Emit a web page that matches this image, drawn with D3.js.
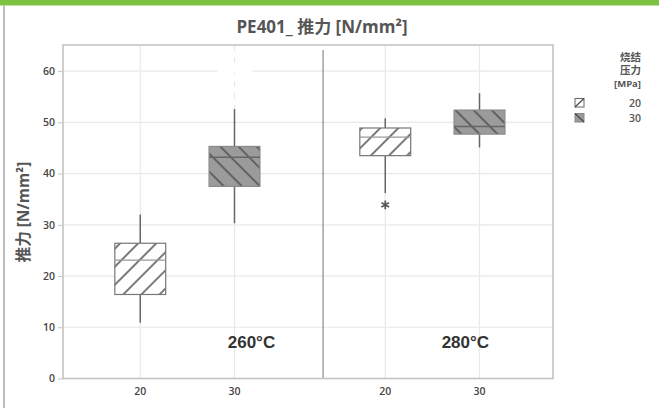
<!DOCTYPE html>
<html><head><meta charset="utf-8">
<script src="https://cdn.jsdelivr.net/npm/d3@7/dist/d3.min.js"></script>
<style>
html,body{margin:0;padding:0;background:#fff;}
svg{display:block;}
svg{font-family:"Open Sans","Noto Sans CJK SC",sans-serif;}
</style></head>
<body>
<script>
// ---- data ----
const temps = ["260°C", "280°C"];
const pressures = [20, 30];
const q1      = [16.4, 37.5, 43.5, 47.7];
const median  = [23.1, 43.2, 47.1, 49.2];
const q3      = [26.4, 45.3, 48.9, 52.4];
const whiskLo = [10.9, 30.3, 36.2, 45.1];
const whiskHi = [32.0, 52.6, 50.8, 55.7];
const outlierGroup = [2];
const outlierValue = [33.9];
const yTicks = [0, 10, 20, 30, 40, 50, 60];
const legendTitle = ["烧结", "压力", "[MPa]"];

// ---- layout ----
const W = 659, H = 408;
const plot = {l: 63, r: 553, t: 45, b: 378.5};
const groupOffset = 2.6;
const tempLabelPos = [1.18, 3.45];

const svg = d3.select("body").append("svg").attr("width", W).attr("height", H);

const defs = svg.append("defs");
function hatch(id, angle, bg, fg) {
  const p = defs.append("pattern").attr("id", id)
    .attr("patternUnits", "userSpaceOnUse").attr("width", 12.8).attr("height", 12.8)
    .attr("patternTransform", `rotate(${angle})`);
  p.append("rect").attr("width", 12.8).attr("height", 12.8).attr("fill", bg);
  p.append("line").attr("x1", 1).attr("x2", 1).attr("y1", 0).attr("y2", 12.8)
    .attr("stroke", fg).attr("stroke-width", 1.4);
}
hatch("h20", 45, "#ffffff", "#444");
hatch("h30", -45, "#9b9b9b", "#4a4a4a");

// frame
svg.append("rect").attr("x", 0).attr("y", 0).attr("width", W).attr("height", 5.5).attr("fill", "#7cc142");
svg.append("rect").attr("x", 3).attr("y", 5.5).attr("width", 2).attr("height", H).attr("fill", "#bdbdbd");

const x = d3.scaleLinear().domain([-0.82, 4.38]).range([plot.l, plot.r]);
const y = d3.scaleLinear().domain([0, 65.1]).range([plot.b, plot.t]);

const groups = [];
temps.forEach((t, ti) => pressures.forEach((p, pi) => {
  const i = groups.length;
  groups.push({temp: t, pressure: p, pi, pos: ti * groupOffset + pi,
    q1: q1[i], med: median[i], q3: q3[i], lo: whiskLo[i], hi: whiskHi[i]});
}));

// gridlines
const g = svg.append("g");
g.selectAll(".hg").data(yTicks.filter(d => d > 0)).join("line")
  .attr("x1", plot.l).attr("x2", plot.r).attr("y1", d => y(d)).attr("y2", d => y(d))
  .attr("stroke", "#e8e8e8").attr("stroke-width", 1.2);
g.selectAll(".vg").data(groups).join("line")
  .attr("x1", d => x(d.pos)).attr("x2", d => x(d.pos)).attr("y1", plot.t).attr("y2", plot.b)
  .attr("stroke", "#e8e8e8").attr("stroke-width", 1.2);

// white artifacts over grid (hidden labels)
svg.append("rect").attr("x", x(1) - 17).attr("y", y(60) - 2).attr("width", 35).attr("height", 4).attr("fill", "#fff");
svg.append("line").attr("x1", x(1)).attr("x2", x(1)).attr("y1", y(64)).attr("y2", y(53))
  .attr("stroke", "#fff").attr("stroke-width", 3).attr("stroke-dasharray", "6,6");

// divider
svg.append("line").attr("x1", x(1.94)).attr("x2", x(1.94)).attr("y1", plot.t + 5).attr("y2", plot.b)
  .attr("stroke", "#8a8a8a").attr("stroke-width", 1.2);

// plot border
svg.append("rect").attr("x", plot.l).attr("y", plot.t).attr("width", plot.r - plot.l).attr("height", plot.b - plot.t)
  .attr("fill", "none").attr("stroke", "#c4c4c4").attr("stroke-width", 1.6);

// y axis
const yAxis = svg.append("g").attr("transform", `translate(${plot.l},0)`)
  .call(d3.axisLeft(y).tickValues(yTicks).tickSize(5).tickPadding(3));
yAxis.select(".domain").remove();
yAxis.selectAll("line").attr("stroke", "#c4c4c4");
yAxis.selectAll("text").attr("fill", "#444").style("font-size", "10.5px").style("font-weight", 600)
  .style("font-family", "'Open Sans', sans-serif");

// x axis labels
svg.selectAll(".xl").data(groups).join("text")
  .attr("x", d => x(d.pos)).attr("y", 395).attr("text-anchor", "middle")
  .attr("fill", "#444").style("font-size", "10.5px").style("font-weight", 600).text(d => d.pressure);

// boxes
const bw = 0.54;
const bx = svg.selectAll(".box").data(groups).join("g");
bx.append("line").attr("x1", d => x(d.pos)).attr("x2", d => x(d.pos))
  .attr("y1", d => y(d.hi)).attr("y2", d => y(d.q3)).attr("stroke", "#666").attr("stroke-width", 1.5);
bx.append("line").attr("x1", d => x(d.pos)).attr("x2", d => x(d.pos))
  .attr("y1", d => y(d.q1)).attr("y2", d => y(d.lo)).attr("stroke", "#666").attr("stroke-width", 1.5);
bx.append("rect")
  .attr("x", d => x(d.pos - bw / 2)).attr("width", d => x(d.pos + bw / 2) - x(d.pos - bw / 2))
  .attr("y", d => y(d.q3)).attr("height", d => y(d.q1) - y(d.q3))
  .attr("fill", d => d.pi === 0 ? "url(#h20)" : "url(#h30)")
  .attr("stroke", d => d.pi === 0 ? "#777" : "#8a8a8a").attr("stroke-width", 1.2);
bx.append("line")
  .attr("x1", d => x(d.pos - bw / 2)).attr("x2", d => x(d.pos + bw / 2))
  .attr("y1", d => y(d.med)).attr("y2", d => y(d.med))
  .attr("stroke", d => d.pi === 0 ? "#999" : "#666").attr("stroke-width", d => d.pi === 0 ? 1.2 : 1.6);

// outliers
svg.selectAll(".out").data(outlierGroup.map((gi, k) => ({g: groups[gi], v: outlierValue[k]}))).join("path")
  .attr("transform", d => `translate(${x(d.g.pos)},${y(d.v)})`)
  .attr("d", d3.symbol(d3.symbolAsterisk, 55))
  .attr("stroke", "#555").attr("stroke-width", 1.7).attr("fill", "none");

// temperature labels
svg.selectAll(".tl").data(temps).join("text")
  .attr("x", (d, i) => x(tempLabelPos[i])).attr("y", 348).attr("text-anchor", "middle")
  .style("font-family", "'Liberation Sans', Arial, sans-serif").style("font-weight", "bold")
  .style("font-size", "17px").attr("fill", "#333").text(d => d);

// title
svg.append("text").attr("x", 322).attr("y", 33).attr("text-anchor", "middle")
  .style("font-size", "17px").style("font-weight", "bold").attr("fill", "#555")
  .text("PE401_ 推力 [N/mm²]");

// y title
svg.append("text").attr("transform", "translate(29,212) rotate(-90)").attr("text-anchor", "middle")
  .style("font-size", "15.5px").style("font-weight", "bold").attr("fill", "#555")
  .text("推力 [N/mm²]");

// legend
const lg = svg.append("g");
lg.selectAll(".lt").data(legendTitle).join("text")
  .attr("x", 641).attr("y", (d, i) => 61 + i * 13).attr("text-anchor", "end")
  .style("font-size", d => d.startsWith("[") ? "9.5px" : "10.5px").style("font-weight", "bold").attr("fill", "#555").text(d => d);
const li = lg.selectAll(".li").data(pressures).join("g")
  .attr("transform", (d, i) => `translate(575,${98.5 + i * 15})`);
li.append("rect").attr("width", 9).attr("height", 8.5)
  .attr("fill", (d, i) => i === 0 ? "#fff" : "#9b9b9b")
  .attr("stroke", (d, i) => i === 0 ? "#666" : "#888").attr("stroke-width", 1);
li.append("line")
  .attr("x1", 0).attr("y1", (d, i) => i === 0 ? 8.5 : 0)
  .attr("x2", 9).attr("y2", (d, i) => i === 0 ? 0 : 8.5)
  .attr("stroke", "#444").attr("stroke-width", 1.1);
li.append("text").attr("x", 66).attr("y", 8).attr("text-anchor", "end")
  .style("font-size", "10.5px").style("font-weight", 600).attr("fill", "#555").text(d => d);
</script>
</body></html>
